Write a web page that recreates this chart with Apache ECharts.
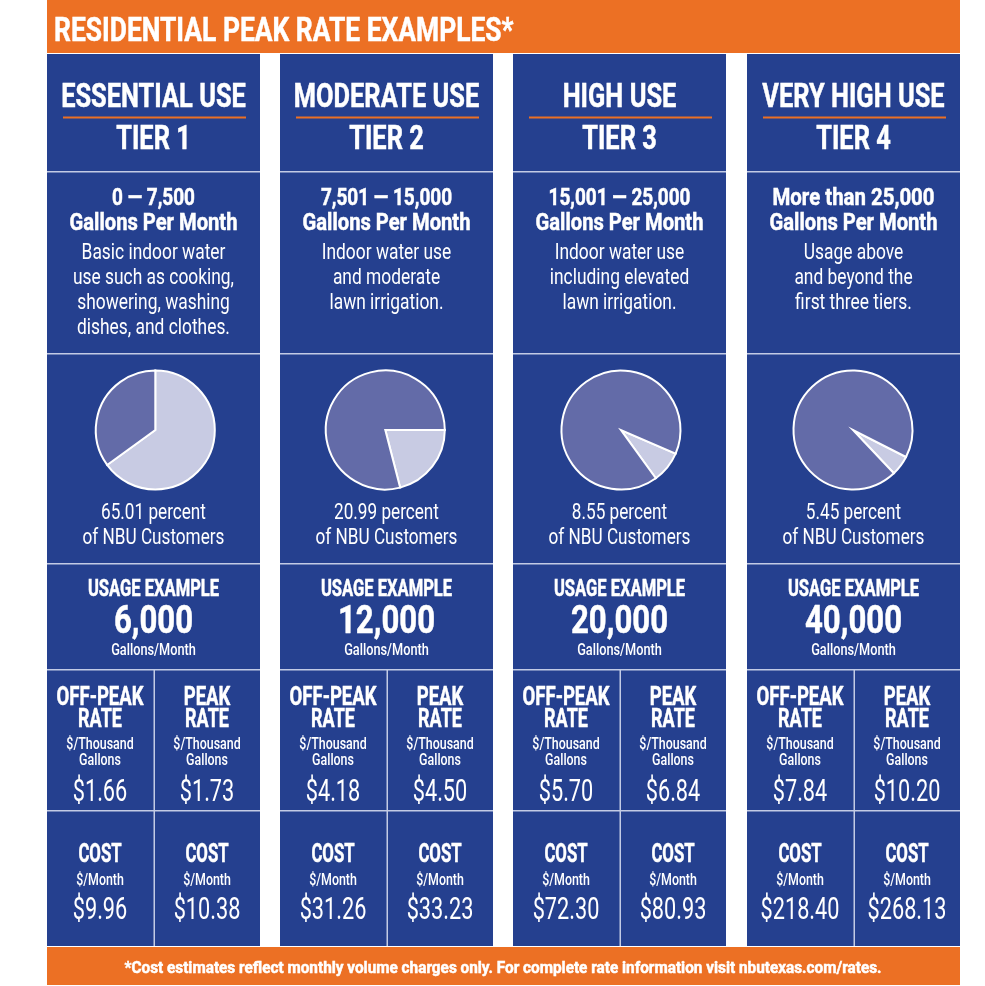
<!DOCTYPE html>
<html>
<head>
<meta charset="utf-8">
<style>html,body{margin:0;padding:0;background:#fff}#chart{width:985px;height:986px}</style>
<script src="https://cdn.jsdelivr.net/npm/echarts@6/dist/echarts.min.js"></script>
</head>
<body>
<div id="chart"></div>
<script>
const useNames = ["ESSENTIAL USE", "MODERATE USE", "HIGH USE", "VERY HIGH USE"];
const tierNames = ["TIER 1", "TIER 2", "TIER 3", "TIER 4"];
const gallonRanges = ["0 — 7,500", "7,501 — 15,000", "15,001 — 25,000", "More than 25,000"];
const descriptions = [
  ["Basic indoor water", "use such as cooking,", "showering, washing", "dishes, and clothes."],
  ["Indoor water use", "and moderate", "lawn irrigation."],
  ["Indoor water use", "including elevated", "lawn irrigation."],
  ["Usage above", "and beyond the", "first three tiers."]
];
const customerShares = [65.01, 20.99, 8.55, 5.45];
const shareStartAngles = [90, 0, -23.4, -27];
const usageExamples = ["6,000", "12,000", "20,000", "40,000"];
const offPeakRates = ["$1.66", "$4.18", "$5.70", "$7.84"];
const peakRates = ["$1.73", "$4.50", "$6.84", "$10.20"];
const offPeakCosts = ["$9.96", "$31.26", "$72.30", "$218.40"];
const peakCosts = ["$10.38", "$33.23", "$80.93", "$268.13"];

const BLUE = "#25408f", ORANGE = "#ec7024", RULE = "#c3cbe5";
const colX = [47, 280, 513, 747];
const pieX = [155.3, 385.3, 621, 853];
const rangeSqueeze = [0.79, 0.79, 0.79, 0.85];
const colW = 213;
const font = "Roboto, sans-serif";
const els = [];

function rect(x, y, w, h, fill) {
  els.push({ type: "rect", shape: { x, y, width: w, height: h }, style: { fill }, silent: true });
}
// centred text, squeezed sideways with sx to get the condensed look
function text(x, y, str, size, weight, sx, align) {
  const style = {
    text: str, fill: "#fff", font: weight + " " + size + "px " + font,
    textAlign: align || "center", textVerticalAlign: "middle"
  };
  if (weight === 700) {
    style.stroke = "#fff";
    style.lineWidth = 0.5;
  }
  els.push({ type: "text", x, y: y + size * 0.09, scaleX: sx, silent: true, style });
}

rect(47, 0, 913, 53, ORANGE);
text(54, 30, "RESIDENTIAL PEAK RATE EXAMPLES*", 33, 700, 0.8, "left");
rect(47, 947, 913, 38, ORANGE);
text(503, 968, "*Cost estimates reflect monthly volume charges only. For complete rate information visit nbutexas.com/rates.", 16, 700, 0.958);

colX.forEach((x, i) => {
  const cx = x + colW / 2;
  const mid = x + 106.5;
  rect(x, 54, colW, 892, BLUE);
  [171, 353, 563, 669, 810].forEach((y) => rect(x, y, colW, 1.5, RULE));
  rect(mid, 670, 1.5, 276, RULE);
  rect(x + 16, 116.5, 183, 2, ORANGE);

  text(cx, 96, useNames[i], 33, 700, 0.77);
  text(cx, 138, tierNames[i], 33, 700, 0.77);
  text(cx, 197, gallonRanges[i], 24, 700, rangeSqueeze[i]);
  text(cx, 222, "Gallons Per Month", 24, 700, 0.84);
  descriptions[i].forEach((line, k) => text(cx, 252 + k * 25, line, 22, 400, 0.79));
  text(cx, 512, customerShares[i] + " percent", 22, 400, 0.78);
  text(cx, 537, "of NBU Customers", 22, 400, 0.78);
  text(cx, 588, "USAGE EXAMPLE", 23, 700, 0.72);
  text(cx, 620, usageExamples[i], 38, 700, 0.82);
  text(cx, 649, "Gallons/Month", 17, 500, 0.75);

  [
    [x + 53, ["OFF-PEAK", "RATE"], offPeakRates[i], offPeakCosts[i]],
    [x + 160, ["PEAK", "RATE"], peakRates[i], peakCosts[i]]
  ].forEach(([c, head, rate, cost]) => {
    text(c, 696, head[0], 25, 700, 0.74);
    text(c, 718, head[1], 25, 700, 0.72);
    text(c, 743, "$/Thousand", 17, 500, 0.73);
    text(c, 759, "Gallons", 17, 500, 0.73);
    text(c, 790, rate, 31, 400, 0.7);
    text(c, 853, "COST", 25, 700, 0.67);
    text(c, 879, "$/Month", 17, 500, 0.73);
    text(c, 908, cost, 31, 400, 0.7);
  });
});

const series = customerShares.map((share, i) => ({
  type: "pie",
  silent: true,
  center: [pieX[i], 430],
  radius: [0, 59.5],
  startAngle: shareStartAngles[i],
  label: { show: false },
  labelLine: { show: false },
  itemStyle: { borderColor: "#fff", borderWidth: 2, borderJoin: "miter", borderMiterLimit: 20 },
  data: [
    { value: share, itemStyle: { color: "#c8cbe3" } },
    { value: 100 - share, itemStyle: { color: "#636ba8" } }
  ]
}));

const chart = echarts.init(document.getElementById("chart"), null, { renderer: "canvas" });
chart.setOption({
  animation: false,
  backgroundColor: "#fff",
  graphic: { elements: els },
  series
});
</script>
</body>
</html>
